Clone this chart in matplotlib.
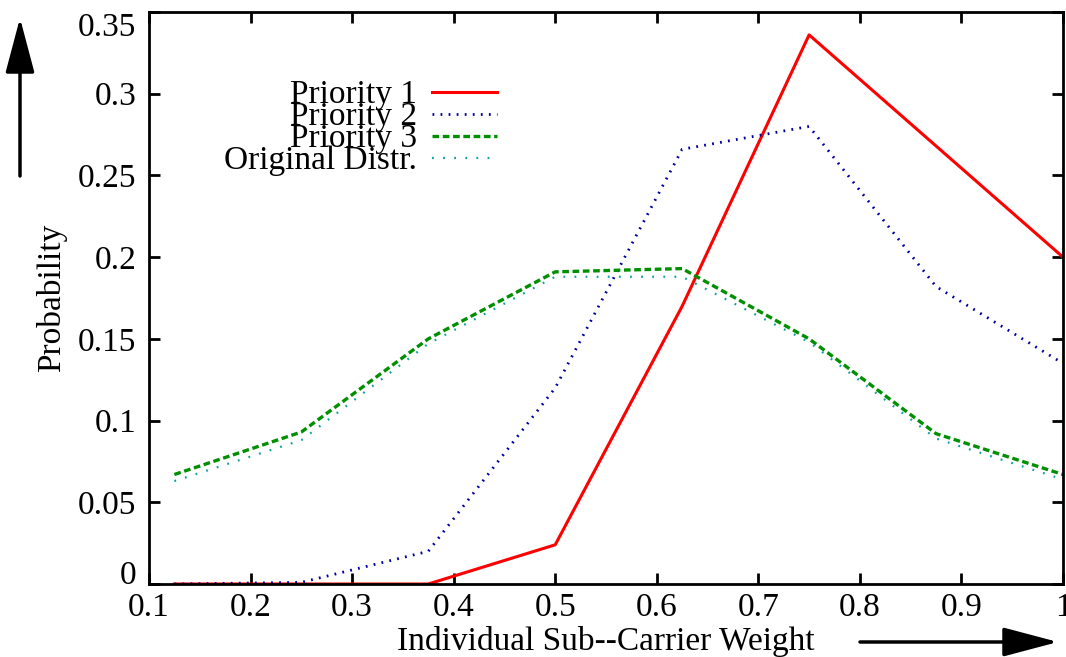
import matplotlib
matplotlib.use("Agg")
import matplotlib.pyplot as plt
from matplotlib.transforms import IdentityTransform

plt.rcParams['font.family'] = ['Liberation Serif', 'DejaVu Serif']
plt.rcParams['lines.scale_dashes'] = False

weights = [0.125, 0.25, 0.375, 0.5, 0.625, 0.75, 0.875, 1.0]
priority1 = [0.0, 0.0, 0.0, 0.024, 0.170, 0.336, 0.268, 0.200]
priority2 = [0.0, 0.001, 0.020, 0.120, 0.266, 0.280, 0.182, 0.135]
priority3 = [0.067, 0.093, 0.150, 0.191, 0.193, 0.150, 0.092, 0.067]
original = [0.063, 0.088, 0.147, 0.188, 0.188, 0.148, 0.089, 0.064]

labels = ["Priority 1", "Priority 2", "Priority 3", "Original Distr."]
xticks = [0.1, 0.2, 0.3, 0.4, 0.5, 0.6, 0.7, 0.8, 0.9, 1.0]
yticks = [0, 0.05, 0.1, 0.15, 0.2, 0.25, 0.3, 0.35]

W, H = 1066, 657
fig = plt.figure(figsize=(W / 100, H / 100), dpi=100)
ax = fig.add_axes([149 / W, (H - 584) / H, (1063 - 149) / W, (584 - 12) / H])

ax.plot(weights, priority1, color='#ff0000', lw=2.2, label=labels[0])
ax.plot(weights, priority2, color='#0000a0', lw=2.0, dashes=(1.3, 4.5), label=labels[1])
ax.plot(weights, priority3, color='#008f00', lw=2.4, dashes=(4.8, 2.6), label=labels[2])
ax.plot(weights, original, color='#10a0a0', lw=1.6, dashes=(1.3, 6.7), label=labels[3])

ax.set_xlim(0.1, 1.0)
ax.set_ylim(0, 0.35)
ax.set_xticks(xticks, ["%g" % v for v in xticks])
ax.set_yticks(yticks, ["%g" % v for v in yticks])

for s in ax.spines.values():
    s.set_linewidth(2.0)
ax.tick_params(direction='in', length=8, width=2.0, labelsize=24,
               top=True, right=True)
ax.tick_params(axis='y', pad=9)
ax.tick_params(axis='x', pad=6)

ylabs = ax.get_yticklabels()
ylabs[0].set_va('baseline')
ylabs[-1].set_va('top')

ax.set_ylabel("Probability", fontsize=24, labelpad=8)
ax.set_xlabel("Individual Sub--Carrier Weight", fontsize=24, labelpad=2)

leg = ax.legend(loc='upper right', bbox_to_anchor=(497, H - 80),
                bbox_transform=IdentityTransform(), frameon=False, markerfirst=False,
                fontsize=24, handlelength=1.95, handletextpad=0.45,
                labelspacing=-0.255, borderpad=0, borderaxespad=0)

# axis direction arrows
ax.annotate("", xy=(20, H - 18), xytext=(20, H - 176), xycoords='figure pixels',
            textcoords='figure pixels', annotation_clip=False,
            arrowprops=dict(arrowstyle='-|>,head_length=3.4,head_width=0.9',
                            lw=2.5, color='black', shrinkA=0, shrinkB=0,
                            mutation_scale=10))
ax.annotate("", xy=(1058, H - 642), xytext=(860, H - 642), xycoords='figure pixels',
            textcoords='figure pixels', annotation_clip=False,
            arrowprops=dict(arrowstyle='-|>,head_length=3.4,head_width=0.9',
                            lw=2.5, color='black', shrinkA=0, shrinkB=0,
                            mutation_scale=10))

fig.savefig("out.png", dpi=100)
